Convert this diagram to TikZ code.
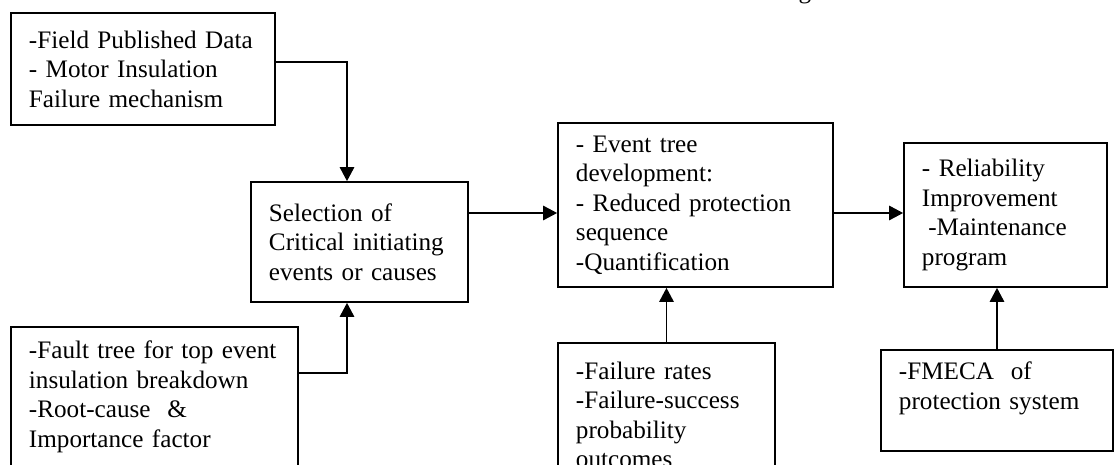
\documentclass[tikz,border=0pt]{standalone}
\usepackage{fontspec}
\setmainfont{Liberation Serif}
\usetikzlibrary{arrows.meta}

\begin{document}
\begin{tikzpicture}[x=0.025cm, y=-0.025cm, line width=1.2pt,
    box/.style = {draw, rectangle, align=left, inner xsep=0.45cm, inner ysep=0pt, font=\fontsize{17.9}{21}\selectfont},
    arr/.style = {-{Triangle[length=0.35cm, width=0.36cm]}}]

    \clip (0,0) rectangle (1120,465);

    \node[anchor=base, font=\fontsize{17.9}{21}\selectfont] (cut) at (805,-1) {g};

    \node[box, text width=5.7cm, minimum height=2.8cm] (data) at (143,69) {-Field Published Data\\- Motor Insulation\\Failure mechanism};
    \node[box, text width=4.525cm, minimum height=3cm] (sel) at (359.5,242) {Selection of\\Critical initiating\\events or causes};
    \node[box, text width=5.975cm, minimum height=4.1cm] (ev) at (695.5,205) {- Event tree\\development:\\- Reduced protection\\sequence\\-Quantification};
    \node[box, text width=4.175cm, minimum height=3.6cm] (rel) at (1005.5,215) {- Reliability\\Improvement\\\hspace*{4.5pt}-Maintenance\\program};
    \node[box, text width=6.275cm, minimum height=3.5cm] (fault) at (154.5,397) {-Fault tree for top event\\insulation breakdown\\-Root-cause\ \ \&\\Importance factor};
    \node[box, text width=4.525cm, minimum height=3.6cm] (rates) at (666.5,415) {-Failure rates\\-Failure-success\\probability\\outcomes};
    \node[box, text width=4.9cm, minimum height=2.525cm] (fmeca) at (997,400.5) {-FMECA\ \ of\\protection system\\\mbox{}};

    \coordinate (k1) at (347,62);
    \coordinate (k2) at (347,373);
    \coordinate (k3) at (0,213);

    \draw[arr] (data.east |- k1) -- (k1) -- (k1 |- sel.north);
    \draw[arr] (fault.east |- k2) -- (k2) -- (k2 |- sel.south);
    \draw[arr] (sel.east |- k3) -- (ev.west |- k3);
    \draw[arr] (ev.east |- k3) -- (rel.west |- k3);
    \draw[arr] (rates.north) -- (rates.north |- ev.south);
    \draw[arr] (fmeca.north) -- (fmeca.north |- rel.south);
\end{tikzpicture}
\end{document}
